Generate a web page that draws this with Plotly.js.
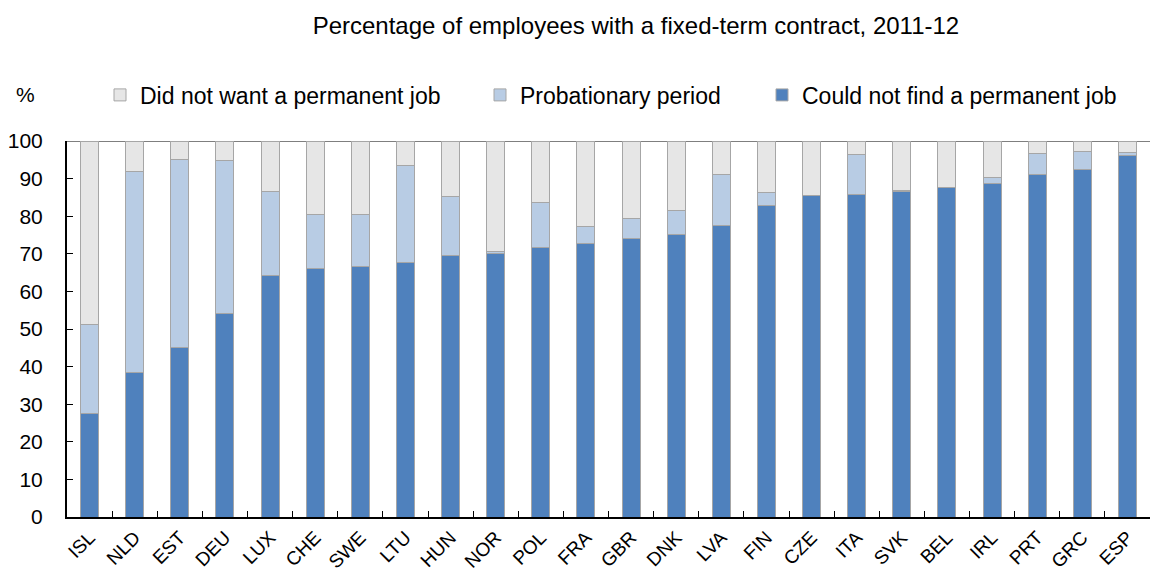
<!DOCTYPE html>
<html><head><meta charset="utf-8">
<script src="https://cdn.plot.ly/plotly-3.0.1.min.js"></script>
<style>body{margin:0;background:#fff}#chart{width:1150px;height:572px}</style>
</head><body><div id="chart"></div>
<script>
const countries = ["ISL","NLD","EST","DEU","LUX","CHE","SWE","LTU","HUN","NOR","POL","FRA","GBR","DNK","LVA","FIN","CZE","ITA","SVK","BEL","IRL","PRT","GRC","ESP"];
const couldNotFind = [27.6,38.3,45.1,54.2,64.1,66.1,66.7,67.8,69.6,70.2,71.6,72.7,74.2,75.2,77.4,82.9,85.4,85.9,86.7,87.6,88.8,91.2,92.3,96.2];
const probationary = [23.7,53.6,50.0,40.6,22.4,14.4,13.7,25.7,15.6,0.3,12.1,4.6,5.3,6.2,13.8,3.3,0.1,10.6,0.2,0.1,1.6,5.5,4.9,0.8];
const didNotWant = couldNotFind.map((v,i)=>Math.round((100 - v - probationary[i])*10)/10);
const seriesNames = ["Did not want a permanent job","Probationary period","Could not find a permanent job"];
const yTicks = [0,10,20,30,40,50,60,70,80,90,100];

const FONT = '"Liberation Sans", Arial, sans-serif';
const line = {color:'#a6a6a6', width:1};
const data = [
  {type:'bar', name:seriesNames[2], x:countries, y:couldNotFind, marker:{color:'#4f81bd', line:line}, legend:'legend3'},
  {type:'bar', name:seriesNames[1], x:countries, y:probationary, marker:{color:'#b8cce4', line:line}, legend:'legend2'},
  {type:'bar', name:seriesNames[0], x:countries, y:didNotWant, marker:{color:'#e6e6e6', line:line}, legend:'legend'}
];
function leg(px){
  return {orientation:'h', x:px/1150, xref:'container', y:0.834, yref:'container', yanchor:'middle', font:{size:23, family:FONT}, itemclick:false, bgcolor:'rgba(0,0,0,0)'};
}
const layout = {
  width:1150, height:572,
  margin:{l:67, r:0, t:141, b:55},
  barmode:'stack', bargap:0.6,
  paper_bgcolor:'#fff', plot_bgcolor:'#fff',
  font:{family:FONT, color:'#000'},
  title:{text:'Percentage of employees with a fixed-term contract, 2011-12', font:{family:FONT, size:24, color:'#000'}, x:0.553, xanchor:'center', y:0.955, yanchor:'middle', xref:'container', yref:'container'},
  showlegend:true,
  legend:leg(100), legend2:leg(480), legend3:leg(762),
  xaxis:{type:'category', showline:true, linecolor:'#000', linewidth:2, ticks:'inside', tickson:'boundaries', ticklen:6, tickcolor:'#000', tickangle:-45, tickfont:{size:19, family:FONT}, showgrid:false, zeroline:false, fixedrange:true},
  yaxis:{range:[0,100], tickvals:yTicks, showline:true, linecolor:'#000', linewidth:2, ticks:'inside', ticklen:6, tickcolor:'#000', tickfont:{size:21, family:FONT}, ticklabelstandoff:18, showgrid:false, zeroline:false, fixedrange:true},
  shapes:[{type:'line', xref:'paper', yref:'y', x0:0, x1:1, y0:100, y1:100, line:{color:'#555', width:1.5}, layer:'below'}],
  annotations:[{text:'%', xref:'paper', yref:'paper', x:(25-67)/1083, y:(517-95)/376, showarrow:false, font:{size:21, family:FONT}, xanchor:'center', yanchor:'middle'}]
};
Plotly.newPlot('chart', data, layout, {displayModeBar:false, staticPlot:true});
</script></body></html>
